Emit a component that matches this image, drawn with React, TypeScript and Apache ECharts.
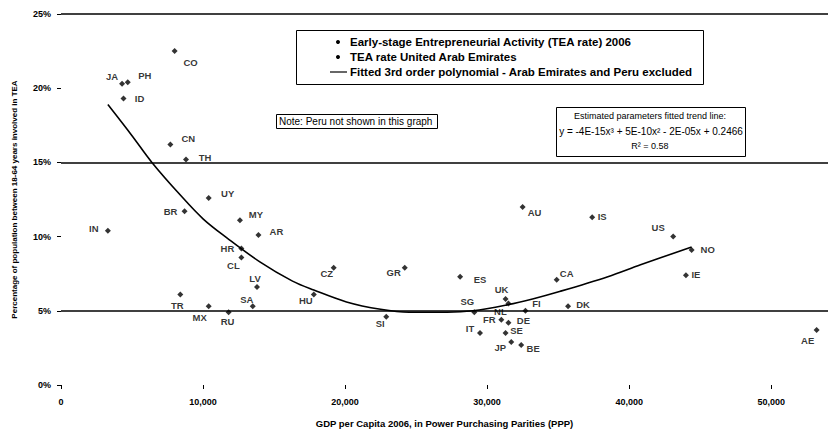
import React, { useEffect, useRef } from "react";
import * as echarts from "echarts";

// GEM country codes with GDP per capita (PPP, USD) and TEA rate (%)
const countryCodes = [
  "CO", "JA", "PH", "ID", "CN", "TH", "UY", "BR", "IN", "MY", "AR", "HR", "CL", "LV",
  "TR", "MX", "RU", "SA", "HU", "CZ", "SI", "GR", "ES", "SG", "AU", "UK", "NL", "FI",
  "FR", "DE", "IT", "SE", "JP", "BE", "CA", "DK", "IS", "US", "NO", "IE",
];
const gdpPerCapita = [
  8000, 4300, 4700, 4400, 7700, 8800, 10400, 8700, 3300, 12600, 13900, 12700, 12700, 13800,
  8400, 10400, 11800, 13500, 17800, 19200, 22900, 24200, 28100, 29100, 32500, 31300, 31500, 32700,
  31000, 31500, 29500, 31300, 31700, 32400, 34900, 35700, 37400, 43100, 44400, 44000,
];
const teaRates = [
  22.5, 20.3, 20.4, 19.3, 16.2, 15.2, 12.6, 11.7, 10.4, 11.1, 10.1, 9.2, 8.6, 6.6,
  6.1, 5.3, 4.9, 5.3, 6.1, 7.9, 4.6, 7.9, 7.3, 4.9, 12.0, 5.8, 5.5, 5.0,
  4.4, 4.2, 3.5, 3.5, 2.9, 2.7, 7.1, 5.3, 11.3, 10.0, 9.1, 7.4,
];

// United Arab Emirates, shown as its own series
const uaeCodes = ["AE"];
const uaeGdp = [53200];
const uaeTea = [3.7];

// Fitted 3rd order polynomial trend, sampled along the curve
const trendGdp = [
  3300, 5000, 6400, 8400, 10000, 11700, 14000, 16300, 17800, 20100, 22500, 24500, 27200,
  29000, 31400, 33200, 35100, 38500, 40800, 44400,
];
const trendTea = [
  18.9, 16.8, 15.0, 12.8, 11.2, 9.9, 8.3, 7.0, 6.4, 5.6, 5.1, 4.9, 4.9,
  5.0, 5.4, 5.8, 6.3, 7.3, 8.1, 9.3,
];

// Reference lines across the plot
const referenceLevels = [5, 15, 25];

// Label placement (dx, dy from marker centre), same order as countryCodes
const labelOffsets: [number, number][] = [
  [16, 11], [-10, -7], [17, -7], [16, 0], [18, -6], [19, -2], [19, -5], [-14, 0], [-14, -2], [16, -6],
  [18, -4], [-14, 0], [-8, 8], [-2, -9], [-3, 11], [-9, 11], [-1, 9], [-6, -7], [-8, 6], [-7, 6],
  [-6, 7], [-11, 5], [20, 3], [-7, -11], [12, 6], [-4, -9], [-8, 8], [11, -7], [-12, 0], [15, -2],
  [-10, -5], [11, -3], [-11, 6], [12, 4], [10, -6], [15, -2], [10, -1], [-15, -9], [16, 0], [10, -1],
];
const uaeLabelOffsets: [number, number][] = [[-9, 10]];

const FONT = "'Liberation Sans', Arial, sans-serif";

export default function App() {
  const ref = useRef<HTMLDivElement>(null);

  useEffect(() => {
    if (!ref.current) return;
    const chart = echarts.init(ref.current, null, { renderer: "svg" });

    const countryData = countryCodes.map((code, i) => ({
      name: code,
      value: [gdpPerCapita[i], teaRates[i]],
      label: { offset: labelOffsets[i] },
    }));
    const uaeData = uaeCodes.map((code, i) => ({
      name: code,
      value: [uaeGdp[i], uaeTea[i]],
      label: { offset: uaeLabelOffsets[i] },
    }));
    const trendData = trendGdp.map((g, i) => [g, trendTea[i]]);

    const pointLabel = {
      show: true,
      position: "inside" as const,
      formatter: "{b}",
      color: "#000",
      fontFamily: FONT,
      fontWeight: "bold" as const,
      fontSize: 9.5,
    };

    const legendTextStyle = {
      fill: "#000",
      font: `bold 11.5px ${FONT}`,
      textVerticalAlign: "middle",
    };
    const noteTextStyle = {
      fill: "#000",
      font: `9px ${FONT}`,
      textVerticalAlign: "middle",
    };

    chart.setOption({
      animation: false,
      backgroundColor: "#fff",
      textStyle: { fontFamily: FONT },
      grid: { left: 61, right: 2, top: 14, bottom: 43, containLabel: false },
      xAxis: {
        type: "value",
        min: 0,
        max: 54000,
        interval: 10000,
        axisLine: { show: false },
        axisTick: { show: true, length: 4, lineStyle: { color: "#000", width: 1 } },
        splitLine: { show: false },
        axisLabel: {
          color: "#000",
          fontWeight: "bold",
          fontSize: 9,
          margin: 12,
          showMaxLabel: false,
          formatter: (v: number) => (v % 10000 === 0 ? v.toLocaleString("en-US") : ""),
        },
        name: "GDP per Capita 2006, in Power Purchasing Parities (PPP)",
        nameLocation: "middle",
        nameGap: 33,
        nameTextStyle: { color: "#000", fontWeight: "bold", fontSize: 9.5 },
      },
      yAxis: {
        type: "value",
        min: 0,
        max: 25,
        interval: 5,
        axisLine: { show: false },
        axisTick: { show: true, length: 4, lineStyle: { color: "#000", width: 1 } },
        splitLine: { show: false },
        axisLabel: {
          color: "#000",
          fontWeight: "bold",
          fontSize: 9,
          margin: 10,
          formatter: "{value}%",
        },
        name: "Percentage of population between 18-64 years involved in TEA",
        nameLocation: "middle",
        nameGap: 43,
        nameRotate: 90,
        nameTextStyle: { color: "#000", fontWeight: "bold", fontSize: 8 },
      },
      series: [
        {
          name: "Early-stage Entrepreneurial Activity (TEA rate) 2006",
          type: "scatter",
          symbol: "diamond",
          symbolSize: 6,
          itemStyle: { color: "#000" },
          label: pointLabel,
          data: countryData,
          z: 3,
        },
        {
          name: "TEA rate United Arab Emirates",
          type: "scatter",
          symbol: "diamond",
          symbolSize: 6,
          itemStyle: { color: "#000" },
          label: pointLabel,
          data: uaeData,
          z: 3,
        },
        {
          name: "Fitted 3rd order polynomial - Arab Emirates and Peru excluded",
          type: "line",
          data: trendData,
          smooth: 0.35,
          showSymbol: false,
          symbol: "none",
          lineStyle: { color: "#000", width: 1.6 },
          z: 2,
          markLine: {
            silent: true,
            symbol: ["none", "none"],
            label: { show: false },
            lineStyle: { color: "#000", width: 1.5, type: "solid" },
            data: referenceLevels.map((v) => ({ yAxis: v })),
          },
        },
      ],
      graphic: [
        // legend box
        {
          type: "rect",
          left: 296,
          top: 30,
          shape: { width: 407, height: 54 },
          style: { fill: "#fff", stroke: "#000", lineWidth: 1 },
          z: 10,
        },
        { type: "circle", shape: { cx: 338, cy: 42, r: 2 }, style: { fill: "#000" }, z: 11 },
        { type: "circle", shape: { cx: 338, cy: 57, r: 2 }, style: { fill: "#000" }, z: 11 },
        {
          type: "line",
          shape: { x1: 330, y1: 72, x2: 347, y2: 72 },
          style: { stroke: "#000", lineWidth: 1.2 },
          z: 11,
        },
        {
          type: "text",
          x: 350,
          y: 42,
          style: { ...legendTextStyle, text: "Early-stage Entrepreneurial Activity (TEA rate) 2006" },
          z: 11,
        },
        {
          type: "text",
          x: 350,
          y: 57,
          style: { ...legendTextStyle, text: "TEA rate United Arab Emirates" },
          z: 11,
        },
        {
          type: "text",
          x: 350,
          y: 72,
          style: { ...legendTextStyle, text: "Fitted 3rd order polynomial - Arab Emirates and Peru excluded" },
          z: 11,
        },
        // note box
        {
          type: "rect",
          left: 276,
          top: 114,
          shape: { width: 161, height: 14 },
          style: { fill: "#fff", stroke: "#000", lineWidth: 1 },
          z: 10,
        },
        {
          type: "text",
          x: 279,
          y: 121,
          style: { ...noteTextStyle, font: `10px ${FONT}`, text: "Note: Peru not shown in this graph" },
          z: 11,
        },
        // fitted trend parameters box
        {
          type: "rect",
          left: 556,
          top: 107,
          shape: { width: 189, height: 49 },
          style: { fill: "#fff", stroke: "#000", lineWidth: 1 },
          z: 10,
        },
        {
          type: "text",
          x: 650,
          y: 116,
          style: { ...noteTextStyle, text: "Estimated parameters fitted trend line:", textAlign: "center" },
          z: 11,
        },
        {
          type: "text",
          x: 651,
          y: 131,
          style: {
            ...noteTextStyle,
            font: `10px ${FONT}`,
            text: "y = -4E-15x\u00B3 + 5E-10x\u00B2 - 2E-05x + 0.2466",
            textAlign: "center",
          },
          z: 11,
        },
        {
          type: "text",
          x: 650,
          y: 146,
          style: { ...noteTextStyle, text: "R\u00B2 = 0.58", textAlign: "center" },
          z: 11,
        },
      ],
    });

    return () => chart.dispose();
  }, []);

  return (
    <div
      ref={ref}
      style={{ position: "absolute", left: 0, top: 0, width: 830, height: 433, background: "#fff" }}
    />
  );
}
